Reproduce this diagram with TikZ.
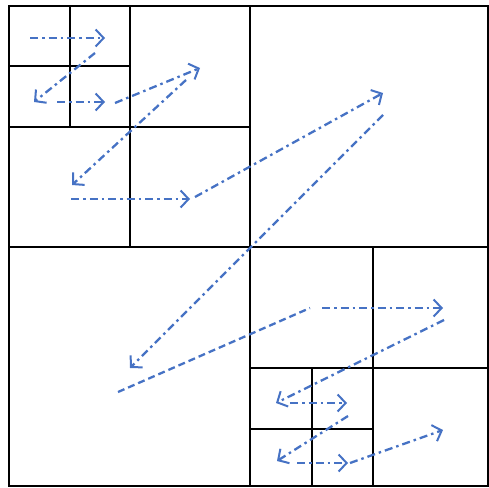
\documentclass[tikz,border=0pt]{standalone}
\usetikzlibrary{arrows.meta}
\definecolor{zblue}{RGB}{70,114,196}
\tikzset{
  grid/.style={line width=2.2pt,black},
  zarrow/.style={zblue,line width=2.3pt,dash pattern=on 8pt off 4pt on 2.5pt off 4pt,-{Straight Barb[length=8pt,width=17pt,line width=2pt]}},
  zdash/.style={zblue,line width=2.3pt,dash pattern=on 7pt off 4pt}
}
\begin{document}
\begin{tikzpicture}[x=1pt,y=-1pt]
\useasboundingbox (0,0) rectangle (489,487);
% grid
\draw[grid] (9,6) rectangle (488,486);
\draw[grid] (250,6) -- (250,486);
\draw[grid] (9,247) -- (488,247);
\draw[grid] (130,6) -- (130,247);
\draw[grid] (9,127) -- (250,127);
\draw[grid] (70,6) -- (70,127);
\draw[grid] (9,66) -- (130,66);
\draw[grid] (373,247) -- (373,486);
\draw[grid] (250,368) -- (488,368);
\draw[grid] (312,368) -- (312,486);
\draw[grid] (250,429) -- (373,429);
% coordinates
\coordinate (a1) at (30,38);   \coordinate (b1) at (105,38);
\coordinate (a2) at (95,53);   \coordinate (b2) at (34,102);
\coordinate (a3) at (57,102);  \coordinate (b3) at (105,102);
\coordinate (a4) at (115,103); \coordinate (b4) at (200,68);
\coordinate (a5) at (186,80);  \coordinate (b5) at (72,185);
\coordinate (a6) at (71,199);  \coordinate (b6) at (190,199);
\coordinate (a7) at (195,197); \coordinate (b7) at (383,93);
\coordinate (a8) at (383,115); \coordinate (b8) at (130,368);
\coordinate (a9) at (118,392); \coordinate (b9) at (310,308);
\coordinate (a10) at (322,308); \coordinate (b10) at (443,308);
\coordinate (a11) at (444,320); \coordinate (b11) at (276,403);
\coordinate (a12) at (290,403); \coordinate (b12) at (347,403);
\coordinate (a13) at (348,416); \coordinate (b13) at (277,461);
\coordinate (a14) at (297,463); \coordinate (b14) at (348,463);
\coordinate (a15) at (350,463); \coordinate (b15) at (443,430);
% arrows
\draw[zarrow] (a1) -- (b1);
\draw[zarrow] (a2) -- (b2);
\draw[zarrow] (a3) -- (b3);
\draw[zarrow] (a4) -- (b4);
\draw[zarrow] (a5) -- (b5);
\draw[zarrow] (a6) -- (b6);
\draw[zarrow] (a7) -- (b7);
\draw[zarrow] (a8) -- (b8);
\draw[zdash] (a9) -- (b9);
\draw[zarrow] (a10) -- (b10);
\draw[zarrow] (a11) -- (b11);
\draw[zarrow] (a12) -- (b12);
\draw[zarrow] (a13) -- (b13);
\draw[zarrow] (a14) -- (b14);
\draw[zarrow] (a15) -- (b15);
\end{tikzpicture}
\end{document}
